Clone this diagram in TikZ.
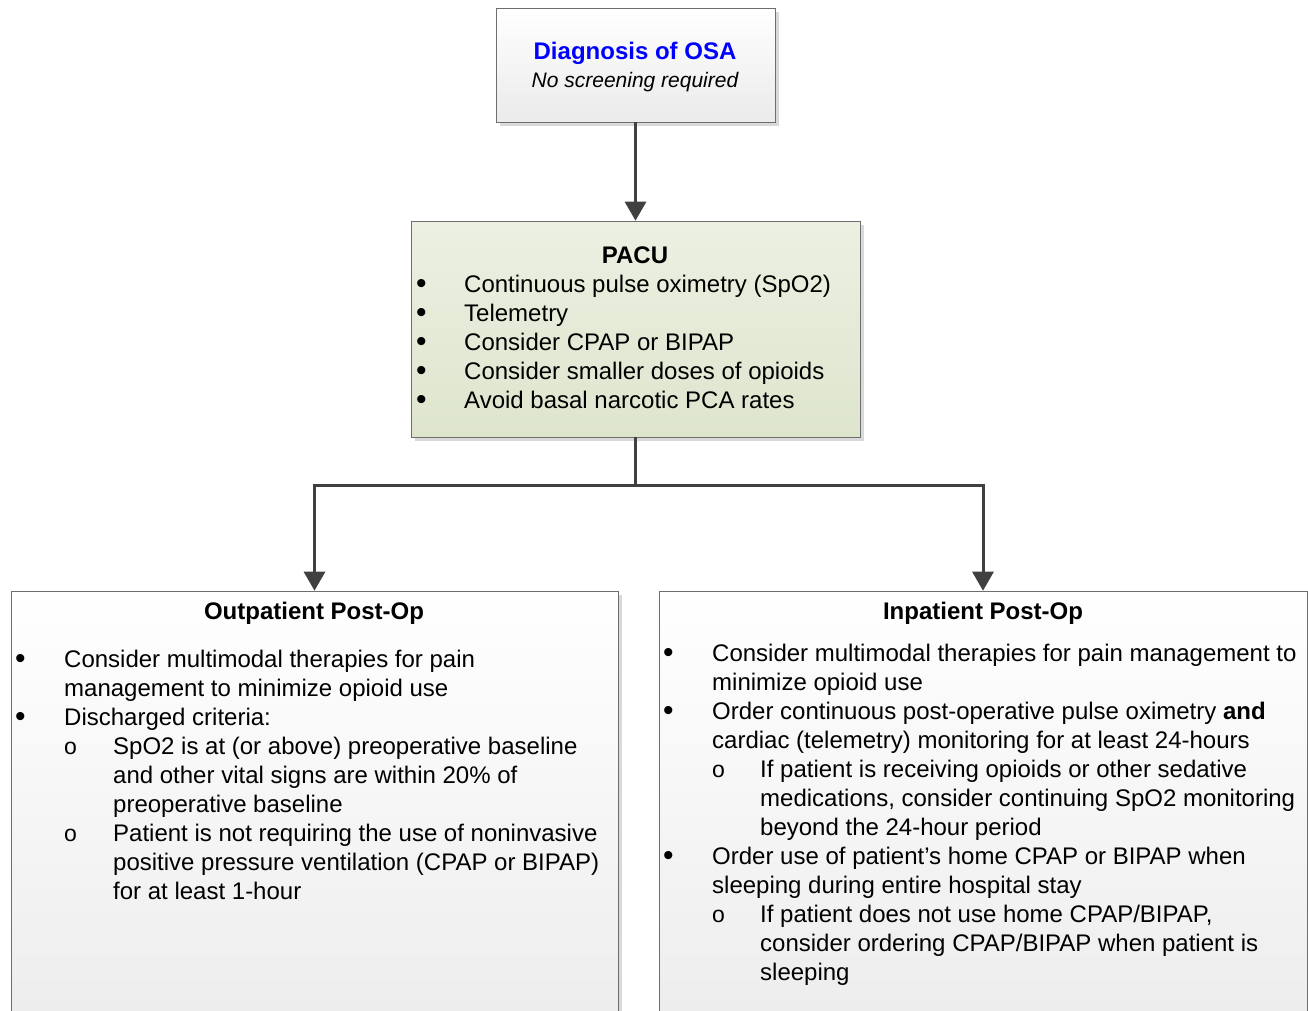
\documentclass[tikz,border=0pt]{standalone}
\usepackage{fontspec}
\setmainfont{Liberation Sans}
\usepackage{tikz}
\usetikzlibrary{arrows.meta,positioning,shadows}
\definecolor{C_line}{RGB}{64,64,64}
\definecolor{C_frame}{RGB}{110,110,110}
\definecolor{C_blue}{RGB}{0,0,255}
\definecolor{C_sage}{RGB}{236,240,226}
\definecolor{C_sagedark}{RGB}{222,229,205}

\begin{document}
\begin{tikzpicture}[
    x=1pt, y=-1pt,
    font=\fontsize{24}{29}\selectfont,
    box/.style={draw=C_frame, semithick, rectangle, inner sep=0pt,
                drop shadow={shadow xshift=4pt, shadow yshift=-4pt, fill=black!15, opacity=1}},
    greybox/.style={box, top color=white, bottom color=black!8},
    greenbox/.style={box, top color=C_sage, bottom color=C_sagedark},
    txt/.style={anchor=base west, inner sep=0pt, align=left},
    bul/.style={anchor=base west, inner sep=0pt, font=\fontsize{30}{29}\selectfont},
    sub/.style={anchor=base west, inner sep=0pt, font=\fontsize{23}{29}\selectfont},
    head/.style={anchor=base, inner sep=0pt, font=\fontsize{24}{29}\selectfont\bfseries},
    flow/.style={-{Triangle[length=19pt,width=21pt]}, draw=C_line, line width=3pt},
    link/.style={draw=C_line, line width=3pt},
]
\useasboundingbox (0,0) rectangle (1308,1010);
\clip (0,0) rectangle (1308,1010);

% Boxes
\node[greybox, minimum width=279pt, minimum height=114pt] (diag) at (635.5,65) {};
\node[greenbox, minimum width=449pt, minimum height=216pt] (pacu) at (635.5,329) {};
\node[greybox, minimum width=607pt, minimum height=480pt] (outp) at (314.5,831) {};
\node[greybox, minimum width=648pt, minimum height=480pt] (inp) at (983,831) {};

% Diagnosis box text
\node[head, text=C_blue] (diagT) at (635,59) {Diagnosis of OSA};
\node[anchor=base, inner sep=0pt, font=\fontsize{21}{25}\selectfont\itshape] (diagS) at (635,87) {No screening required};

% PACU text (base = baseline of last line)
\node[head] (pacuT) at (635,263) {PACU};
\node[bul] (pb1) at (416,293) {•};
\node[txt] (pt1) at (464,292) {Continuous pulse oximetry (SpO2)};
\node[bul] (pb2) at (416,322) {•};
\node[txt] (pt2) at (464,321) {Telemetry};
\node[bul] (pb3) at (416,351) {•};
\node[txt] (pt3) at (464,350) {Consider CPAP or BIPAP};
\node[bul] (pb4) at (416,380) {•};
\node[txt] (pt4) at (464,379) {Consider smaller doses of opioids};
\node[bul] (pb5) at (416,409) {•};
\node[txt] (pt5) at (464,408) {Avoid basal narcotic PCA rates};

% Outpatient text
\node[head] (outT) at (314,619) {Outpatient Post-Op};
\node[bul] (ob1) at (15,668) {•};
\node[txt] (ot1) at (64,696) {Consider multimodal therapies for pain\\management to minimize opioid use};
\node[bul] (ob2) at (15,726) {•};
\node[txt] (ot2) at (64,725) {Discharged criteria:};
\node[sub] (os1) at (64,754) {o};
\node[txt] (ost1) at (113,812) {SpO2 is at (or above) preoperative baseline\\and other vital signs are within 20\% of\\preoperative baseline};
\node[sub] (os2) at (64,841) {o};
\node[txt] (ost2) at (113,899) {Patient is not requiring the use of noninvasive\\positive pressure ventilation (CPAP or BIPAP)\\for at least 1-hour};

% Inpatient text
\node[head] (inT) at (983,619) {Inpatient Post-Op};
\node[bul] (ib1) at (663,662) {•};
\node[txt] (it1) at (712,690) {Consider multimodal therapies for pain management to\\minimize opioid use};
\node[bul] (ib2) at (663,720) {•};
\node[txt] (it2) at (712,748) {Order continuous post-operative pulse oximetry \textbf{and}\\cardiac (telemetry) monitoring for at least 24-hours};
\node[sub] (is1) at (712,777) {o};
\node[txt] (ist1) at (760,835) {If patient is receiving opioids or other sedative\\medications, consider continuing SpO2 monitoring\\beyond the 24-hour period};
\node[bul] (ib3) at (663,865) {•};
\node[txt] (it3) at (712,893) {Order use of patient’s home CPAP or BIPAP when\\sleeping during entire hospital stay};
\node[sub] (is2) at (712,922) {o};
\node[txt] (ist2) at (760,980) {If patient does not use home CPAP/BIPAP,\\consider ordering CPAP/BIPAP when patient is\\sleeping};

% Connectors
\coordinate (split) at (635.5,485);
\draw[flow] (diag) -- (pacu);
\draw[link] (pacu) -- (split);
\draw[flow] (split) -| (outp);
\draw[flow] (split) -| (inp);
\end{tikzpicture}
\end{document}
